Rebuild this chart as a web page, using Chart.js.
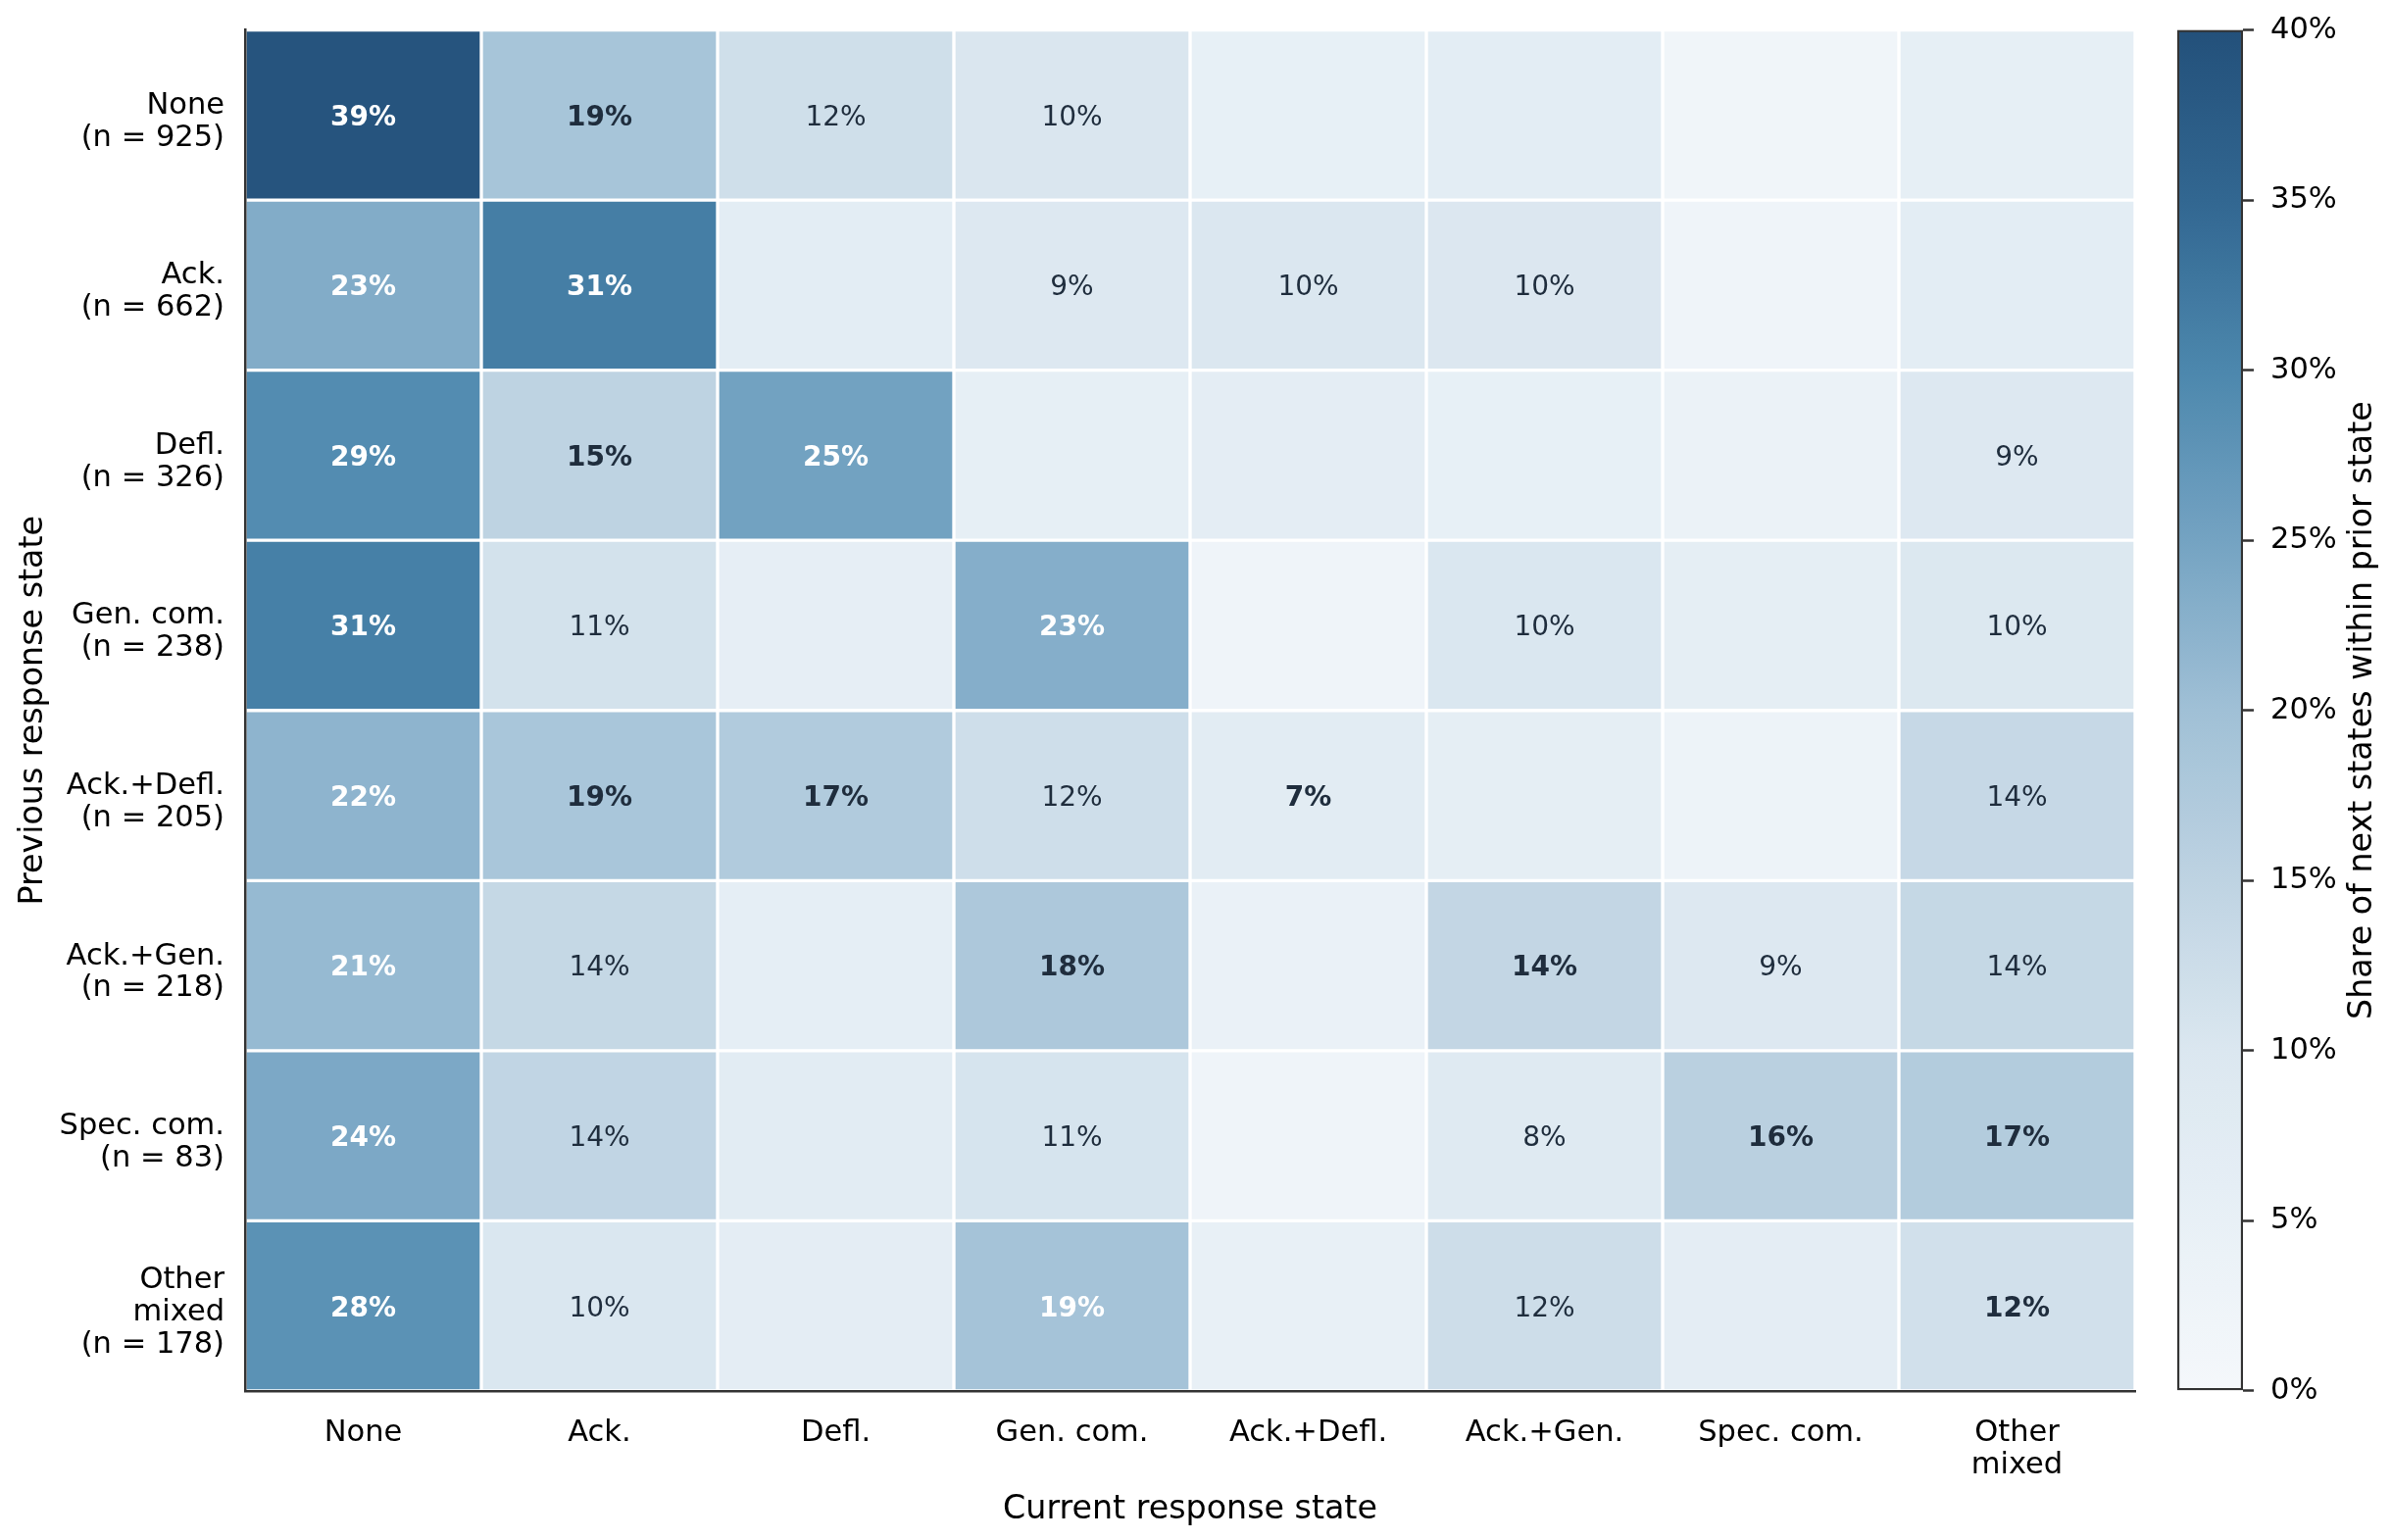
<!DOCTYPE html>
<html>
<head>
<meta charset="utf-8">
<script src="https://cdn.jsdelivr.net/npm/chart.js@4/dist/chart.umd.min.js"></script>
<style>
  html, body { margin: 0; padding: 0; background: #ffffff; }
  #wrap { position: relative; width: 2439px; height: 1571px; overflow: hidden; background: #ffffff; }
  #main { position: absolute; left: 0; top: 0; }
  #cbar { position: absolute; left: 2200px; top: 0; }
</style>
</head>
<body>
<div id="wrap">
  <canvas id="main" width="2439" height="1571"></canvas>
  <canvas id="cbar" width="239" height="1571"></canvas>
</div>
<script>
// ---------------- DATA ----------------
// Current response states (columns)
const colTickLabels = ['None', 'Ack.', 'Defl.', 'Gen. com.', 'Ack.+Defl.', 'Ack.+Gen.', 'Spec. com.', ['Other', 'mixed']];
// Previous response states (rows) and their sample sizes
const rowNameLines = [['None'], ['Ack.'], ['Defl.'], ['Gen. com.'], ['Ack.+Defl.'], ['Ack.+Gen.'], ['Spec. com.'], ['Other', 'mixed']];
const rowN = [925, 662, 326, 238, 205, 218, 83, 178];

// Share (%) of next states within each prior state
const fromNone      = [39.1, 18.8, 12.1, 10.2,  5.2,  6.8,  2.1,  5.7];
const fromAck       = [23.4, 31.4,  6.8,  9.2, 10.0,  9.8,  2.4,  6.9];
const fromDefl      = [29.1, 15.0, 25.2,  5.8,  6.7,  5.2,  3.7,  9.2];
const fromGenCom    = [31.1, 11.3,  5.9, 23.1,  2.5, 10.1,  6.3,  9.7];
const fromAckDefl   = [22.0, 18.5, 17.1, 12.2,  7.3,  6.3,  2.9, 13.7];
const fromAckGen    = [21.1, 13.8,  6.0, 17.9,  4.1, 14.2,  9.2, 13.8];
const fromSpecCom   = [24.1, 14.4,  7.2, 10.8,  2.4,  8.4, 15.7, 16.9];
const fromOther     = [28.1, 10.1,  6.7, 19.1,  5.1, 12.4,  6.7, 11.8];

// Significant cells (shown in bold)
const sigNone    = [1, 1, 0, 0, 0, 0, 0, 0];
const sigAck     = [1, 1, 0, 0, 0, 0, 0, 0];
const sigDefl    = [1, 1, 1, 0, 0, 0, 0, 0];
const sigGenCom  = [1, 0, 0, 1, 0, 0, 0, 0];
const sigAckDefl = [1, 1, 1, 0, 1, 0, 0, 0];
const sigAckGen  = [1, 0, 0, 1, 0, 1, 0, 0];
const sigSpecCom = [1, 0, 0, 0, 0, 0, 1, 1];
const sigOther   = [1, 0, 0, 1, 0, 0, 0, 1];

// Colorbar ticks (%)
const colorbarTicks = [0, 5, 10, 15, 20, 25, 30, 35, 40];

// ---------------- BUILD ----------------
const shareRows = [fromNone, fromAck, fromDefl, fromGenCom, fromAckDefl, fromAckGen, fromSpecCom, fromOther];
const sigRows = [sigNone, sigAck, sigDefl, sigGenCom, sigAckDefl, sigAckGen, sigSpecCom, sigOther];
const rowTickLabels = rowNameLines.map((lines, i) => lines.concat(['(n = ' + rowN[i] + ')']));

const FONT = '"DejaVu Sans", "Liberation Sans", sans-serif';
Chart.defaults.font.family = FONT;

// colormap (light -> dark blue), stops in %
const cmapStops = [
  [0,  [245, 248, 251]],
  [5,  [232, 240, 246]],
  [10, [219, 231, 240]],
  [15, [190, 211, 226]],
  [20, [160, 192, 214]],
  [25, [116, 163, 194]],
  [30, [76, 135, 173]],
  [35, [50, 103, 145]],
  [40, [35, 80, 122]]
];
function cmap(v) {
  const x = Math.max(0, Math.min(40, v));
  for (let i = 0; i < cmapStops.length - 1; i++) {
    const [a, ca] = cmapStops[i];
    const [b, cb] = cmapStops[i + 1];
    if (x <= b) {
      const t = (x - a) / (b - a);
      const c = ca.map((k, j) => Math.round(k + (cb[j] - k) * t));
      return 'rgb(' + c.join(',') + ')';
    }
  }
  return 'rgb(' + cmapStops[cmapStops.length - 1][1].join(',') + ')';
}

const cellLabelPlugin = {
  id: 'cellLabels',
  afterDatasetsDraw(chart) {
    const ctx = chart.ctx;
    ctx.save();
    shareRows.forEach((vals, r) => {
      const meta = chart.getDatasetMeta(r);
      vals.forEach((v, c) => {
        const sig = sigRows[r][c] === 1;
        if (v < 7.5 && !sig) return;
        const el = meta.data[c];
        const cy = (el.y + el.base) / 2;
        ctx.font = (sig ? 'bold ' : '') + '28px ' + FONT;
        ctx.fillStyle = v >= 19 ? '#ffffff' : '#1f2d3d';
        ctx.textAlign = 'center';
        ctx.textBaseline = 'middle';
        ctx.fillText(Math.round(v) + '%', el.x, cy + 3);
      });
    });
    ctx.restore();
  }
};

new Chart(document.getElementById('main'), {
  type: 'bar',
  data: {
    labels: colTickLabels,
    datasets: shareRows.map((vals, r) => ({
      label: rowTickLabels[r].join(' '),
      data: vals.map(() => [r, r + 1]),
      backgroundColor: vals.map(v => cmap(v)),
      borderColor: '#ffffff',
      borderWidth: 2,
      borderSkipped: false,
      grouped: false,
      barPercentage: 1,
      categoryPercentage: 1
    }))
  },
  options: {
    responsive: false,
    animation: false,
    events: [],
    layout: { padding: { left: 0, top: 30.5, right: 261, bottom: 0 } },
    plugins: { legend: { display: false }, tooltip: { enabled: false } },
    scales: {
      x: {
        type: 'category',
        offset: true,
        grid: { display: false, drawTicks: false },
        border: { display: true, color: '#333333', width: 2.5, z: 1 },
        ticks: { padding: 27, color: '#000000', autoSkip: false, maxRotation: 0, minRotation: 0,
                 font: { family: FONT, size: 30.5, lineHeight: 1.08 } },
        title: { display: true, text: 'Current response state', color: '#000000',
                 font: { family: FONT, size: 33.3 }, padding: { top: 0, bottom: 10.5 } },
        afterFit: s => { s.height = 152; s.paddingLeft = 0; s.paddingRight = 0; }
      },
      y: {
        type: 'linear',
        min: 0, max: 8, reverse: true,
        afterBuildTicks: s => { s.ticks = rowTickLabels.map((_, i) => ({ value: i + 0.5 })); },
        grid: { display: false, drawTicks: false },
        border: { display: true, color: '#333333', width: 2.5, z: 1 },
        ticks: { padding: 21, color: '#000000', autoSkip: false, labelOffset: 7,
                 font: { family: FONT, size: 30.5, lineHeight: 1.08 },
                 callback: (v, i) => rowTickLabels[i] },
        title: { display: true, text: 'Previous response state', color: '#000000',
                 font: { family: FONT, size: 33.3 }, padding: { top: 14.5, bottom: 0 } },
        afterFit: s => { s.width = 250; s.paddingTop = 0; s.paddingBottom = 0; }
      }
    }
  },
  plugins: [cellLabelPlugin]
});

// ---------------- COLORBAR ----------------
const cbTitlePlugin = {
  id: 'cbTitle',
  afterDraw(chart) {
    const ctx = chart.ctx;
    const ys = chart.scales.y;
    ctx.save();
    ctx.translate(210.5, (ys.top + ys.bottom) / 2);
    ctx.rotate(-Math.PI / 2);
    ctx.font = '33.3px ' + FONT;
    ctx.fillStyle = '#000000';
    ctx.textAlign = 'center';
    ctx.textBaseline = 'middle';
    ctx.fillText('Share of next states within prior state', 0, 0);
    ctx.restore();
  }
};

new Chart(document.getElementById('cbar'), {
  type: 'bar',
  data: {
    labels: [''],
    datasets: [{
      data: [[colorbarTicks[0], colorbarTicks[colorbarTicks.length - 1]]],
      backgroundColor: (c) => {
        const ch = c.chart;
        if (!ch.chartArea) return cmap(20);
        const ys = ch.scales.y;
        const lo = colorbarTicks[0], hi = colorbarTicks[colorbarTicks.length - 1];
        const g = ch.ctx.createLinearGradient(0, ys.getPixelForValue(lo), 0, ys.getPixelForValue(hi));
        for (let v = lo; v <= hi; v += 1) g.addColorStop((v - lo) / (hi - lo), cmap(v));
        return g;
      },
      borderColor: '#333333',
      borderWidth: 2.5,
      borderSkipped: false,
      barPercentage: 1,
      categoryPercentage: 1
    }]
  },
  options: {
    responsive: false,
    animation: false,
    events: [],
    layout: { padding: { left: 21, top: 30.6, right: 0, bottom: 152.4 } },
    plugins: { legend: { display: false }, tooltip: { enabled: false } },
    scales: {
      x: { display: false },
      y: {
        position: 'right',
        min: 0, max: 40,
        afterBuildTicks: s => { s.ticks = colorbarTicks.map(v => ({ value: v })); },
        grid: { display: true, drawOnChartArea: false, drawTicks: true, tickLength: 11,
                tickColor: '#333333', tickWidth: 2.5 },
        border: { display: false },
        ticks: { padding: 17, color: '#000000', font: { family: FONT, size: 30.5 },
                 callback: v => v + '%' },
        afterFit: s => { s.width = 151; s.paddingTop = 0; s.paddingBottom = 0; }
      }
    }
  },
  plugins: [cbTitlePlugin]
});
</script>
</body>
</html>
